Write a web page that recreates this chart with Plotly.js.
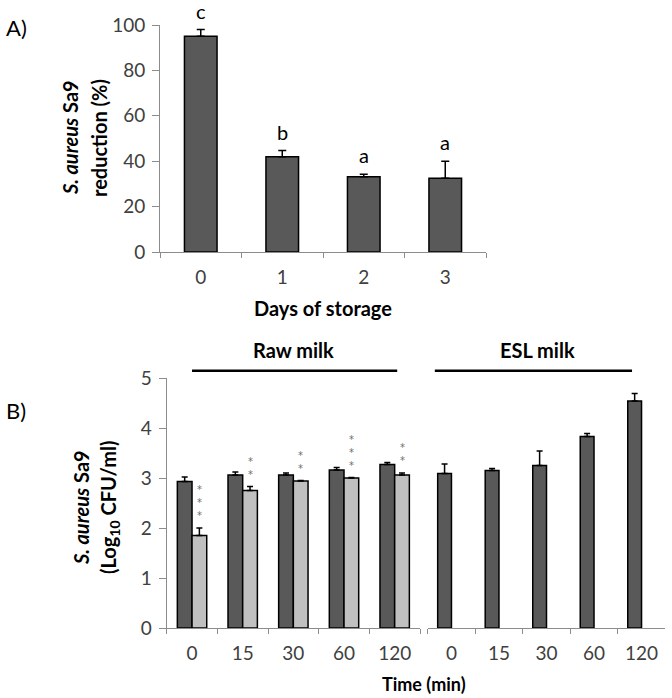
<!DOCTYPE html>
<html>
<head>
<meta charset="utf-8">
<script src="https://cdn.plot.ly/plotly-3.0.1.min.js"></script>
<style>html,body{margin:0;padding:0;background:#fff;}#chart{width:672px;height:698px;}</style>
</head>
<body>
<div id="chart"></div>
<script>
// ---- Panel A data ----
var daysLabels = ['0', '1', '2', '3'];
var reductionPct = [95, 42, 33.2, 32.5];
var reductionErr = [3, 2.7, 1, 7.5];
var sigLetters = ['c', 'b', 'a', 'a'];

// ---- Panel B data ----
var timeLabels = ['0', '15', '30', '60', '120'];
var rawControl = [2.93, 3.06, 3.06, 3.16, 3.27];
var rawControlErr = [0.09, 0.06, 0.04, 0.05, 0.04];
var rawTreated = [1.85, 2.75, 2.94, 3.00, 3.06];
var rawTreatedErr = [0.15, 0.08, 0.01, 0.01, 0.04];
var starCounts = [3, 2, 2, 3, 2];
var eslControl = [3.09, 3.15, 3.25, 3.83, 4.54];
var eslControlErr = [0.19, 0.04, 0.29, 0.06, 0.15];

var FONT = 'Lato, "Open Sans", sans-serif';
var DARK = '#595959', LIGHT = '#c0c0c0', AXIS = '#8c8c8c', TICKC = '#404040';

function zeros(n){ var a=[]; for(var i=0;i<n;i++) a.push(0); return a; }
function errY(arr, w){ return {type:'data', symmetric:false, array:arr, arrayminus:zeros(arr.length), color:'#000', thickness:1.5, width:w}; }

var traces = [
  {type:'bar', x:daysLabels, y:reductionPct, xaxis:'x', yaxis:'y', width:0.4, offset:-0.2,
   marker:{color:DARK, line:{color:'#000', width:1.5}}, error_y:errY(reductionErr,4), hoverinfo:'none'},
  {type:'bar', x:timeLabels, y:rawControl, xaxis:'x2', yaxis:'y2', width:0.29, offset:-0.29,
   marker:{color:DARK, line:{color:'#000', width:1.5}}, error_y:errY(rawControlErr,3), hoverinfo:'none'},
  {type:'bar', x:timeLabels, y:rawTreated, xaxis:'x2', yaxis:'y2', width:0.29, offset:0,
   marker:{color:LIGHT, line:{color:'#000', width:1.5}}, error_y:errY(rawTreatedErr,3), hoverinfo:'none'},
  {type:'bar', x:timeLabels, y:eslControl, xaxis:'x3', yaxis:'y3', width:0.29, offset:-0.29,
   marker:{color:DARK, line:{color:'#000', width:1.5}}, error_y:errY(eslControlErr,3), hoverinfo:'none'}
];

var W = 672, H = 698;
function px(x){ return x / W; }
function py(y){ return 1 - y / H; }

var TICKFONT = {family:FONT, size:19, color:TICKC};
var catAxis = {type:'category', showline:true, linecolor:AXIS, linewidth:1, ticks:'outside', tickson:'boundaries',
  ticklen:5, tickcolor:AXIS, showgrid:false, zeroline:false, tickfont:TICKFONT, ticklabelstandoff:8, fixedrange:true};
var valAxis = {showline:true, linecolor:AXIS, linewidth:1, ticks:'outside', ticklen:7, tickcolor:AXIS, showgrid:false,
  zeroline:false, tickfont:TICKFONT, ticklabelstandoff:3, fixedrange:true};

var layout = {
  width:W, height:H, margin:{l:0,r:0,t:0,b:0}, paper_bgcolor:'#fff', plot_bgcolor:'rgba(0,0,0,0)',
  showlegend:false, barmode:'overlay', font:{family:FONT},
  xaxis: Object.assign({}, catAxis, {domain:[px(160), px(486)], anchor:'y', range:[-0.5,3.5],
    title:{text:'<b>Days of storage</b>', font:{family:FONT, size:20, color:'#000'}, standoff:15}}),
  yaxis: Object.assign({}, valAxis, {domain:[py(252), py(25)], anchor:'x', range:[0,100], dtick:20}),
  xaxis2: Object.assign({}, catAxis, {domain:[px(166.7), px(420)], anchor:'y2', range:[-0.5,4.5]}),
  yaxis2: Object.assign({}, valAxis, {domain:[py(628), py(378)], anchor:'x2', range:[0,5], dtick:1}),
  xaxis3: Object.assign({}, catAxis, {domain:[px(427.7), px(665.3)], anchor:'y3', range:[-0.5,4.5]}),
  yaxis3: {domain:[py(628), py(378)], anchor:'x3', range:[0,5], showline:false, ticks:'', showticklabels:false,
    showgrid:false, zeroline:false, fixedrange:true},
  shapes: [
    {type:'line', xref:'x2', yref:'paper', x0:0, x1:4.05, y0:py(370.7), y1:py(370.7), line:{color:'#000', width:2.5}},
    {type:'line', xref:'x3', yref:'paper', x0:-0.35, x1:3.8, y0:py(370.7), y1:py(370.7), line:{color:'#000', width:2.5}}
  ],
  annotations: []
};

var ann = layout.annotations;
var TITLEFONT = {family:FONT, size:20, color:'#000'};
// panel labels
ann.push({xref:'paper', yref:'paper', x:px(4), y:py(27), xanchor:'left', yanchor:'middle', showarrow:false,
  text:'A)', font:{family:FONT, size:22, color:'#000'}});
ann.push({xref:'paper', yref:'paper', x:px(4), y:py(410), xanchor:'left', yanchor:'middle', showarrow:false,
  text:'B)', font:{family:FONT, size:22, color:'#000'}});
// y titles (two lines each)
ann.push({xref:'paper', yref:'paper', x:px(70), y:py(138), textangle:-90, showarrow:false, xanchor:'center', yanchor:'middle',
  text:'<b><i>S. aureus</i> Sa9</b>', font:TITLEFONT});
ann.push({xref:'paper', yref:'paper', x:px(99), y:py(138), textangle:-90, showarrow:false, xanchor:'center', yanchor:'middle',
  text:'<b>reduction (%)</b>', font:TITLEFONT});
ann.push({xref:'paper', yref:'paper', x:px(81), y:py(508), textangle:-90, showarrow:false, xanchor:'center', yanchor:'middle',
  text:'<b><i>S. aureus</i> Sa9</b>', font:TITLEFONT});
ann.push({xref:'paper', yref:'paper', x:px(109), y:py(508), textangle:-90, showarrow:false, xanchor:'center', yanchor:'middle',
  text:'<b>(Log<sub>10</sub> CFU/ml)</b>', font:TITLEFONT});
// x title panel B
ann.push({xref:'paper', yref:'paper', x:px(424), y:py(684), showarrow:false, xanchor:'center', yanchor:'middle',
  text:'<b>Time (min)</b>', font:{family:FONT, size:18, color:'#000'}});
// group labels
ann.push({xref:'x2', yref:'paper', x:2, y:py(350), showarrow:false, xanchor:'center', yanchor:'middle',
  text:'<b>Raw milk</b>', font:TITLEFONT});
ann.push({xref:'x3', yref:'paper', x:1.8, y:py(350), showarrow:false, xanchor:'center', yanchor:'middle',
  text:'<b>ESL milk</b>', font:TITLEFONT});
// significance letters panel A
for (var i = 0; i < sigLetters.length; i++) {
  ann.push({xref:'x', yref:'y', x:i, y:reductionPct[i] + reductionErr[i], yanchor:'bottom', yshift:5, showarrow:false,
    text:sigLetters[i], font:{family:FONT, size:20, color:'#000'}});
}
// asterisks panel B (stacked in one text)
for (var j = 0; j < starCounts.length; j++) {
  var s = []; for (var k = 0; k < starCounts[j]; k++) s.push('*');
  ann.push({xref:'x2', yref:'y2', x:j + 0.145, y:rawTreated[j] + rawTreatedErr[j], yanchor:'bottom',
    yshift:5, showarrow:false, text:s.join('<br>'),
    font:{family:'"DejaVu Sans", sans-serif', size:10, color:'#6e6e6e'}});
}

Plotly.newPlot('chart', traces, layout, {displayModeBar:false, staticPlot:true});
</script>
</body>
</html>
